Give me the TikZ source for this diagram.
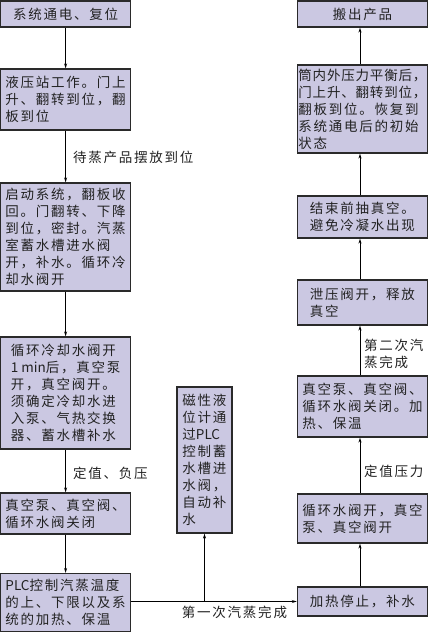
\documentclass[tikz,border=0pt]{standalone}
\usepackage{fontspec}
\setmainfont{Noto Sans CJK SC}[LetterSpace=13]
\newfontfamily\latf{Noto Sans CJK SC}
\newfontfamily\tightf{Noto Sans CJK SC}[LetterSpace=6]
\newcommand{\lat}[1]{{\latf #1}}
\usetikzlibrary{arrows.meta}
\definecolor{boxfill}{HTML}{CBC8E2}
\definecolor{boxline}{HTML}{2A2A2A}
\definecolor{txt}{HTML}{222222}
\tikzset{
  box/.style={draw=boxline, line width=1.2pt, fill=boxfill, align=left, inner sep=2pt,
    text=txt, font=\fontsize{13.5}{17}\selectfont},
  lbl/.style={text=txt, font=\fontsize{13.5}{17}\selectfont, inner sep=0pt, align=left},
  arr/.style={draw=black, line width=0.9pt, -{Stealth[length=5pt,width=3pt]}}
}
\begin{document}
\begin{tikzpicture}[x=1pt,y=1pt]
\useasboundingbox (0,0) rectangle (428,-633);
% left column
\node[box, minimum width=130, minimum height=26] (l1) at (65.6,-14) {系统通电、复位};
\node[box, minimum width=130, minimum height=61] (l2) at (65.6,-99.5) {液压站工作。门上\\升、翻转到位，翻\\板到位};
\node[box, minimum width=130, minimum height=108] (l3) at (65.6,-237) {启动系统，翻板收\\回。门翻转、下降\\到位，密封。汽蒸\\室蓄水槽进水阀\\开，补水。循环冷\\却水阀开};
\node[box, minimum width=130, minimum height=112] (l4) at (65.6,-393) {循环冷却水阀开\\\lat{1 min}后，真空泵\\开，真空阀开。\\须确定冷却水进\\入泵、气热交换\\器、蓄水槽补水};
\node[box, minimum width=130, minimum height=41] (l5) at (65.6,-513.5) {真空泵、真空阀、\\循环水阀关闭};
\node[box, minimum width=130, minimum height=58] (l6) at (65.6,-602.5) {\lat{PLC}控制汽蒸温度\\的上、下限以及系\\统的加热、保温};
% middle
\node[box, minimum width=55, minimum height=146] (m) at (204.5,-460) {磁性液\\位计通\\过\lat{PLC}\\控制蓄\\水槽进\\水阀，\\自动补\\水};
% right column
\node[box, minimum width=130, minimum height=26] (r1) at (362.4,-14) {搬出产品};
\node[box, minimum width=130, minimum height=88, inner sep=1pt] (r2) at (362.4,-109) {{\tightf 筒内外压力平衡后，}\\{\tightf 门上升、翻转到位，}\\翻板到位。恢复到\\系统通电后的初始\\状态};
\node[box, minimum width=130, minimum height=42] (r3) at (362.4,-217) {结束前抽真空。\\避免冷凝水出现};
\node[box, minimum width=130, minimum height=45] (r4) at (362.4,-302.5) {泄压阀开，释放\\真空};
\node[box, minimum width=130, minimum height=61] (r5) at (362.4,-406.5) {真空泵、真空阀、\\循环水阀关闭。加\\热、保温};
\node[box, minimum width=130, minimum height=49] (r6) at (362.4,-518.5) {循环水阀开，真空\\泵、真空阀开};
\node[box, minimum width=130, minimum height=29] (r7) at (362.4,-601.5) {加热停止，补水};
% left arrows
\draw[arr] (l1) -- (l2);
\draw[arr] (l2) -- (l3);
\draw[arr] (l3) -- (l4);
\draw[arr] (l4) -- (l5);
\draw[arr] (l5) -- (l6);
\node[lbl, anchor=west] (t1) at (73,-157) {待蒸产品摆放到位};
\node[lbl, anchor=west] (t2) at (73,-473) {定值、负压};
% bottom link
\coordinate (j) at (204.5,-601.5);
\draw[arr] (l6.east |- j) -- (r7.west);
\draw[arr] (j) -- (m.south);
\node[lbl] (t3) at (234.5,-612) {第一次汽蒸完成};
% right arrows
\draw[arr] ([xshift=-2.4pt]r7.north) -- ([xshift=-2.4pt]r6.south);
\draw[arr] ([xshift=-2.4pt]r6.north) -- ([xshift=-2.4pt]r5.south);
\draw[arr] ([xshift=-2.4pt]r5.north) -- ([xshift=-2.4pt]r4.south);
\draw[arr] ([xshift=-2.4pt]r4.north) -- ([xshift=-2.4pt]r3.south);
\draw[arr] ([xshift=-2.4pt]r3.north) -- ([xshift=-2.4pt]r2.south);
\draw[arr] ([xshift=-2.4pt]r2.north) -- ([xshift=-2.4pt]r1.south);
\node[lbl, anchor=west] (t4) at (364,-471) {定值压力};
\node[lbl, anchor=west] (t5) at (364,-353.5) {第二次汽\\蒸完成};
\end{tikzpicture}
\end{document}
